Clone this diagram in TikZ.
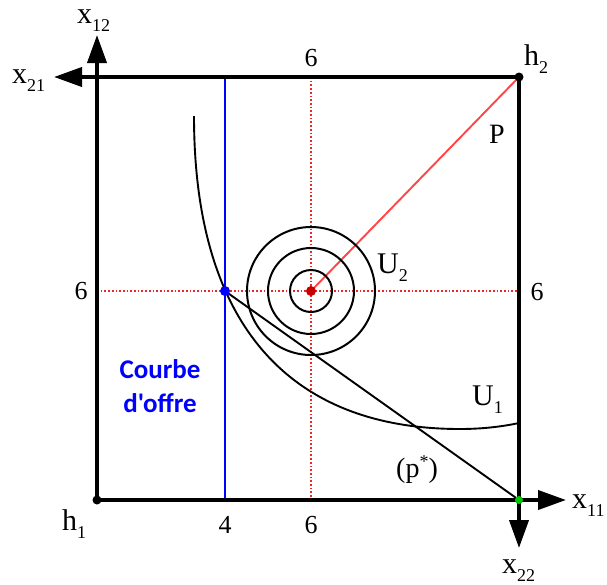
\documentclass[tikz,border=0pt]{standalone}
\usepackage{fontspec}
\setmainfont{Liberation Serif}
\newfontfamily\offrefont{Carlito}
\usetikzlibrary{arrows.meta}
\newcommand{\lbl}[2]{{\fontsize{30}{32}\selectfont #1}\raisebox{-8pt}{\fontsize{18}{19}\selectfont #2}}
\definecolor{dotred}{RGB}{235,40,40}
\definecolor{linered}{RGB}{255,70,70}
\definecolor{ptred}{RGB}{200,0,0}
\definecolor{ptgreen}{RGB}{0,200,0}
\begin{document}
\begin{tikzpicture}[x=1pt,y=-1pt,
  axis/.style={line width=3.8pt,-{Triangle[length=28pt,width=19pt]}},
  guide/.style={dotred,line width=1.7pt,dash pattern=on 1.7pt off 2pt},
  curve/.style={line width=1.9pt},
  ring/.style={line width=2pt},
  lab/.style={anchor=base west,inner sep=0pt},
  num/.style={inner sep=0pt,font=\fontsize{26}{28}\selectfont},
  pt/.style={circle,inner sep=0pt,minimum size=#1}
]
\useasboundingbox (0,0) rectangle (607,584);
% key coordinates
\coordinate (h1) at (97,500);
\coordinate (h2) at (519,77);
\coordinate (c) at (311,291);
\coordinate (b) at (225,291);
\coordinate (g) at (519,500);
\coordinate (x11e) at (566,500);
\coordinate (x12e) at (97,35);
\coordinate (x21e) at (54,77);
\coordinate (x22e) at (519,548);
\coordinate (gtop) at (311,77);
\coordinate (gbot) at (311,500);
\coordinate (gleft) at (97,291);
\coordinate (gright) at (519,291);
\coordinate (btop) at (225,77);
\coordinate (bbot) at (225,500);
% dotted guides
\draw[guide] (gtop) -- (gbot);
\draw[guide] (gleft) -- (gright);
% blue supply line
\draw[blue,line width=1.9pt] (btop) -- (bbot);
% red price line
\draw[linered,line width=1.9pt] (c) -- (h2);
% circles U2
\draw[ring] (c) circle[radius=21];
\draw[ring] (c) circle[radius=43];
\draw[ring] (c) circle[radius=64];
% indifference curve U1
\draw[curve] (194,116) .. controls (194,322) and (287,429) .. (460,429)
  .. controls (485,429) and (505,426) .. (519,423);
% budget line
\draw[curve] (b) -- (g);
% axes / box
\draw[axis] (h1) -- (x11e);
\draw[axis] (h1) -- (x12e);
\draw[axis] (h2) -- (x21e);
\draw[axis] (h2) -- (x22e);
% points
\node[pt=9pt,fill=black] (ph1) at (h1) {};
\node[pt=9pt,fill=black] (ph2) at (h2) {};
\node[pt=8pt,fill=ptgreen] (pg) at (g) {};
\node[pt=10pt,fill=blue] (pb) at (b) {};
\node[pt=10pt,fill=ptred] (pc) at (c) {};
% labels
\node[lab] (lx12) at (77,23) {\lbl{x}{12}};
\node[lab] (lx21) at (12,83) {\lbl{x}{21}};
\node[lab] (lx11) at (572,508) {\lbl{x}{11}};
\node[lab] (lx22) at (502,573) {\lbl{x}{22}};
\node[lab] (lh1) at (62,530) {\lbl{h}{1}};
\node[lab] (lh2) at (524,65) {\lbl{h}{2}};
\node[lab] (lU2) at (377,273) {\lbl{U}{2}};
\node[lab] (lU1) at (472,405) {\lbl{U}{1}};
\node[lab,font=\fontsize{28}{30}\selectfont] (lP) at (489,143) {P};
\node[lab,font=\fontsize{28}{30}\selectfont] (lps) at (396,477) {(p\raisebox{10pt}{\fontsize{18}{19}\selectfont *})};
\node[num] (n6t) at (311,58) {6};
\node[num] (n6l) at (81,291) {6};
\node[num] (n6r) at (537,292) {6};
\node[num] (n4b) at (225,525) {4};
\node[num] (n6b) at (311,525) {6};
\node[align=center,inner sep=0pt,text=blue,font=\offrefont\bfseries\fontsize{27}{34}\selectfont] (off) at (160,386) {Courbe\\d'offre};
\end{tikzpicture}
\end{document}
